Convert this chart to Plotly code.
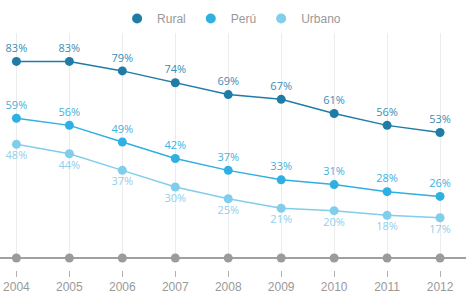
import plotly.graph_objects as go

years = [2004, 2005, 2006, 2007, 2008, 2009, 2010, 2011, 2012]
rural = [83, 83, 79, 74, 69, 67, 61, 56, 53]
peru = [59, 56, 49, 42, 37, 33, 31, 28, 26]
urbano = [48, 44, 37, 30, 25, 21, 20, 18, 17]
baseline = [0] * len(years)
tick_labels = [str(y) for y in years]

c_rural = "#1f7ca6"
c_peru = "#2eb0e2"
c_urb = "#80cdec"

fig = go.Figure()

def series(name, vals, color, tcolor, pos):
    fig.add_trace(go.Scatter(
        x=years, y=vals, mode="lines+markers+text", name=name,
        text=[f"{v}%" for v in vals], textposition=pos,
        textfont=dict(family="Open Sans", size=11, color=tcolor),
        line=dict(color=color, width=1.5),
        marker=dict(color=color, size=9),
        showlegend=False, cliponaxis=False,
    ))

series("Urbano", urbano, c_urb, "#8fd0ec", "bottom center")
series("Perú", peru, c_peru, "#3ab2e0", "top center")
series("Rural", rural, c_rural, "#3a8db6", "top center")

# baseline markers
fig.add_trace(go.Scatter(
    x=years, y=baseline, mode="markers", marker=dict(color="#9b9b9b", size=9),
    showlegend=False, cliponaxis=False, hoverinfo="skip",
))

# tick axis helper trace
fig.add_trace(go.Scatter(
    x=years, y=baseline, xaxis="x2", mode="markers", marker=dict(opacity=0),
    showlegend=False, hoverinfo="skip",
))

for name, color in [("Rural", c_rural), ("Perú", c_peru), ("Urbano", c_urb)]:
    fig.add_trace(go.Scatter(
        x=[None], y=[None], mode="markers", name=name,
        marker=dict(color=color, size=10),
    ))

H = 296
top = 33
axis_y = 258
tick_top = 270
bottom_margin = 21
plot_h = H - top - bottom_margin

xr = [2003.69, 2012.49]

fig.update_layout(
    width=466, height=H,
    margin=dict(l=0, r=0, t=top, b=bottom_margin),
    paper_bgcolor="white", plot_bgcolor="white",
    font=dict(family="Liberation Sans", color="#999999"),
    legend=dict(orientation="h", x=0.497, xanchor="center", y=1, yanchor="bottom",
                font=dict(size=12, color="#999999"), itemwidth=30,
                bgcolor="rgba(0,0,0,0)"),
    xaxis=dict(range=xr, showgrid=True, gridcolor="#ececec", gridwidth=1,
               tickvals=years, showticklabels=False, ticks="", zeroline=False,
               showline=False),
    xaxis2=dict(range=xr, overlaying="x", anchor="free",
                position=(H - bottom_margin - tick_top) / plot_h,
                tickvals=years, ticktext=tick_labels, ticks="outside",
                ticklen=6, tickcolor="#b0b0b0", tickwidth=1, showgrid=False,
                showline=False, zeroline=False, side="bottom",
                tickfont=dict(size=12, color="#999999")),
    yaxis=dict(range=[0, 95], domain=[(H - bottom_margin - axis_y) / plot_h, 1],
               showgrid=False, showticklabels=False, zeroline=True,
               zerolinecolor="#a0a0a0", zerolinewidth=1.5, fixedrange=True),
)

fig.write_html("out.html")
